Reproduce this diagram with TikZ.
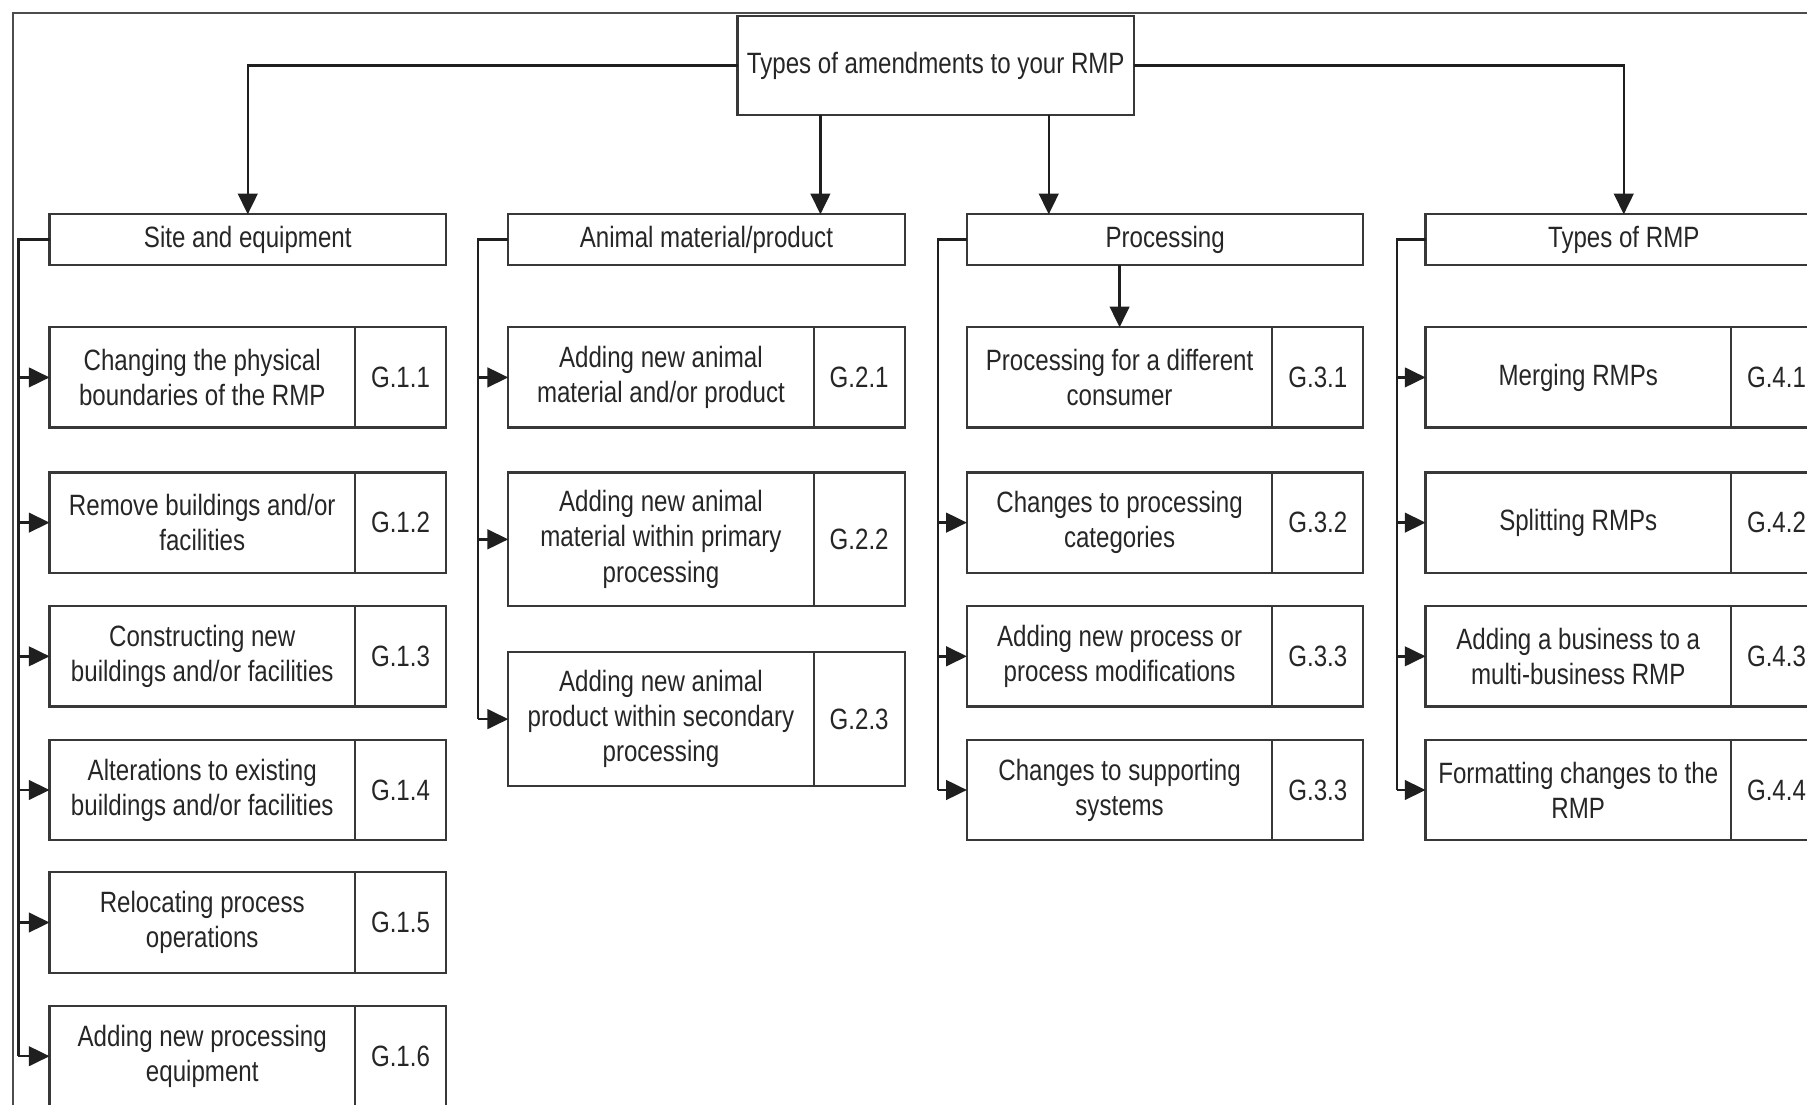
\documentclass[tikz,border=0pt]{standalone}
\usepackage{fontspec}
\setmainfont{Liberation Sans}[FakeStretch=0.82]
\usetikzlibrary{arrows.meta,calc}
\begin{document}
\begin{tikzpicture}[x=1pt,y=-1pt,
  every node/.style={font=\fontsize{25.5}{30.5}\selectfont, text=black!85},
  box/.style={draw=black!78, line width=1.9pt, rectangle, inner sep=0pt, outer sep=0pt, align=center, fill=white},
  head/.style={box, minimum width=344pt, minimum height=44pt, anchor=north west},
  mainbox/.style={box, minimum width=265pt, anchor=north west},
  codebox/.style={box, minimum width=79pt, anchor=north west},
  conn/.style={draw=black!88, line width=2.1pt},
  arr/.style={conn, -{Triangle[length=18pt,width=17pt]}},
  framestyle/.style={draw=black!70, line width=1.8pt}
]
\useasboundingbox (0,0) rectangle (1568,958);
\clip (0,0) rectangle (1568,958);
\fill[white] (0,0) rectangle (1568,958);

% outer frame
\draw[framestyle] (11,1000) -- (11,11) -- (1620,11);

% top
\node[box, minimum width=344pt, minimum height=86pt, anchor=north west] (top) at (640,14) {Types of amendments to your RMP};

% heads
\node[head] (site) at (43,186) {Site and equipment};
\node[head] (animal) at (441,186) {Animal material/product};
\node[head] (proc) at (839,186) {Processing};
\node[head] (rmp) at (1237,186) {Types of RMP};

% site column
\node[mainbox, minimum height=87pt] (s1) at (43,284) {Changing the physical\\boundaries of the RMP};
\node[codebox, minimum height=87pt] (s1c) at (s1.north east) {G.1.1};
\node[mainbox, minimum height=87pt] (s2) at (43,410) {Remove buildings and/or\\facilities};
\node[codebox, minimum height=87pt] (s2c) at (s2.north east) {G.1.2};
\node[mainbox, minimum height=87pt] (s3) at (43,526) {Constructing new\\buildings and/or facilities};
\node[codebox, minimum height=87pt] (s3c) at (s3.north east) {G.1.3};
\node[mainbox, minimum height=87pt] (s4) at (43,642) {Alterations to existing\\buildings and/or facilities};
\node[codebox, minimum height=87pt] (s4c) at (s4.north east) {G.1.4};
\node[mainbox, minimum height=87pt] (s5) at (43,757) {Relocating process\\operations};
\node[codebox, minimum height=87pt] (s5c) at (s5.north east) {G.1.5};
\node[mainbox, minimum height=87pt] (s6) at (43,873) {Adding new processing\\equipment};
\node[codebox, minimum height=87pt] (s6c) at (s6.north east) {G.1.6};

% animal column
\node[mainbox, minimum height=87pt] (a1) at (441,284) {Adding new animal\\material and/or product};
\node[codebox, minimum height=87pt] (a1c) at (a1.north east) {G.2.1};
\node[mainbox, minimum height=116pt] (a2) at (441,410) {Adding new animal\\material within primary\\processing};
\node[codebox, minimum height=116pt] (a2c) at (a2.north east) {G.2.2};
\node[mainbox, minimum height=116pt] (a3) at (441,566) {Adding new animal\\product within secondary\\processing};
\node[codebox, minimum height=116pt] (a3c) at (a3.north east) {G.2.3};

% processing column
\node[mainbox, minimum height=87pt] (p1) at (839,284) {Processing for a different\\consumer};
\node[codebox, minimum height=87pt] (p1c) at (p1.north east) {G.3.1};
\node[mainbox, minimum height=87pt] (p2) at (839,410) {Changes to processing\\categories};
\node[codebox, minimum height=87pt] (p2c) at (p2.north east) {G.3.2};
\node[mainbox, minimum height=87pt] (p3) at (839,526) {Adding new process or\\process modifications};
\node[codebox, minimum height=87pt] (p3c) at (p3.north east) {G.3.3};
\node[mainbox, minimum height=87pt] (p4) at (839,642) {Changes to supporting\\systems};
\node[codebox, minimum height=87pt] (p4c) at (p4.north east) {G.3.3};

% rmp column
\node[mainbox, minimum height=87pt] (r1) at (1237,284) {Merging RMPs};
\node[codebox, minimum height=87pt] (r1c) at (r1.north east) {G.4.1};
\node[mainbox, minimum height=87pt] (r2) at (1237,410) {Splitting RMPs};
\node[codebox, minimum height=87pt] (r2c) at (r2.north east) {G.4.2};
\node[mainbox, minimum height=87pt] (r3) at (1237,526) {Adding a business to a\\multi-business RMP};
\node[codebox, minimum height=87pt] (r3c) at (r3.north east) {G.4.3};
\node[mainbox, minimum height=87pt] (r4) at (1237,642) {Formatting changes to the\\RMP};
\node[codebox, minimum height=87pt] (r4c) at (r4.north east) {G.4.4};

% top connectors
\draw[arr] (top.west) -| (site.north);
\draw[arr] (top.east) -| (rmp.north);
\coordinate (ta) at ($(top.south west)!0.209!(top.south east)$);
\coordinate (tb) at ($(top.south west)!0.785!(top.south east)$);
\draw[arr] (ta) -- (ta |- animal.north);
\draw[arr] (tb) -- (tb |- proc.north);

% processing to first child
\draw[arr] (p1.north |- proc.south) -- (p1.north);

% brackets
\coordinate (sb) at ($(site.west)+(-27,0)$);
\draw[conn] (site.west) -- (sb) -- (sb |- s6.west);
\foreach \n in {s1,s2,s3,s4,s5,s6} \draw[arr] (sb |- \n.west) -- (\n.west);

\coordinate (ab) at ($(animal.west)+(-26,0)$);
\draw[conn] (animal.west) -- (ab) -- (ab |- a3.west);
\foreach \n in {a1,a2,a3} \draw[arr] (ab |- \n.west) -- (\n.west);

\coordinate (pb) at ($(proc.west)+(-25,0)$);
\draw[conn] (proc.west) -- (pb) -- (pb |- p4.west);
\foreach \n in {p2,p3,p4} \draw[arr] (pb |- \n.west) -- (\n.west);

\coordinate (rb) at ($(rmp.west)+(-25,0)$);
\draw[conn] (rmp.west) -- (rb) -- (rb |- r4.west);
\foreach \n in {r1,r2,r3,r4} \draw[arr] (rb |- \n.west) -- (\n.west);
\end{tikzpicture}
\end{document}
